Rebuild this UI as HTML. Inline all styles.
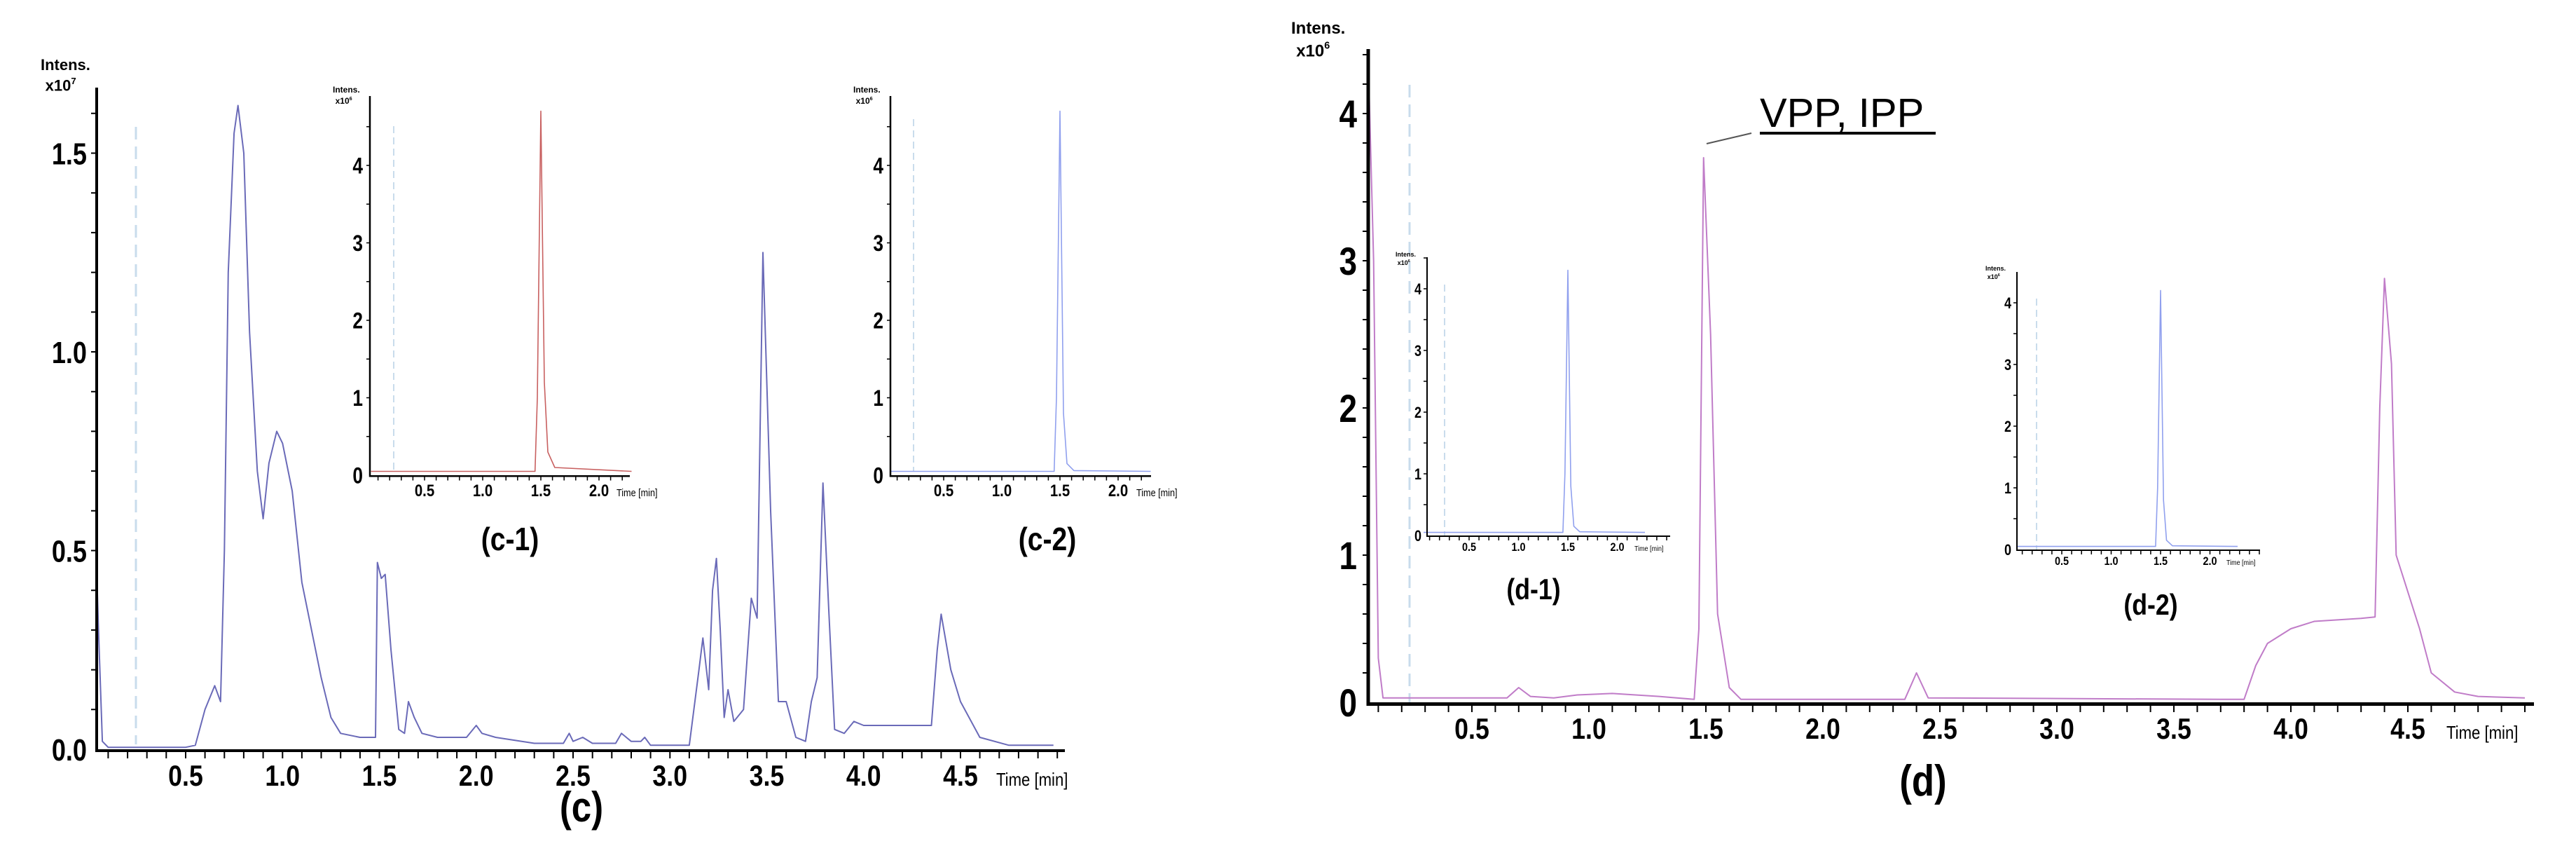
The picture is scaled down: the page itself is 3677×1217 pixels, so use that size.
<!DOCTYPE html>
<html><head><meta charset="utf-8"><style>
html,body{margin:0;padding:0;background:#fff;}
svg{display:block;font-family:"Liberation Sans",sans-serif;}
</style></head><body>
<svg id="fig" width="3677" height="1217" viewBox="0 0 3677 1217" xmlns="http://www.w3.org/2000/svg"></svg>
<script>
// ---- data ----
const cTimes=[0.04,0.05,0.07,0.1,0.5,0.55,0.6,0.65,0.68,0.7,0.72,0.75,0.77,0.8,0.83,0.87,0.9,0.93,0.97,1.0,1.05,1.1,1.15,1.2,1.25,1.3,1.4,1.48,1.49,1.51,1.53,1.56,1.6,1.63,1.65,1.68,1.72,1.8,1.95,2.0,2.03,2.1,2.3,2.45,2.48,2.5,2.55,2.6,2.72,2.75,2.8,2.85,2.87,2.9,3.1,3.15,3.17,3.2,3.22,3.24,3.26,3.28,3.3,3.33,3.38,3.42,3.45,3.48,3.52,3.56,3.6,3.65,3.7,3.73,3.76,3.79,3.82,3.85,3.9,3.95,4.0,4.05,4.35,4.38,4.4,4.45,4.5,4.6,4.75,4.98];
const cValues=[0.46,0.3,0.02,0.005,0.005,0.01,0.1,0.16,0.12,0.5,1.2,1.55,1.62,1.5,1.05,0.7,0.58,0.72,0.8,0.77,0.65,0.42,0.3,0.18,0.08,0.04,0.03,0.03,0.47,0.43,0.44,0.25,0.05,0.04,0.12,0.08,0.04,0.03,0.03,0.06,0.04,0.03,0.015,0.015,0.04,0.02,0.03,0.015,0.015,0.04,0.02,0.02,0.03,0.01,0.01,0.2,0.28,0.15,0.4,0.48,0.3,0.08,0.15,0.07,0.1,0.38,0.33,1.25,0.6,0.12,0.12,0.03,0.02,0.12,0.18,0.67,0.35,0.05,0.04,0.07,0.06,0.06,0.06,0.25,0.34,0.2,0.12,0.03,0.01,0.01];
const dTimes=[0.06,0.08,0.1,0.12,0.65,0.7,0.75,0.85,0.95,1.1,1.3,1.45,1.47,1.49,1.52,1.55,1.6,1.65,2.35,2.4,2.45,3.7,3.8,3.85,3.9,4.0,4.1,4.3,4.36,4.38,4.4,4.43,4.45,4.55,4.6,4.7,4.8,5.0];
const dValues=[4.2,3.0,0.3,0.03,0.03,0.1,0.04,0.03,0.05,0.06,0.04,0.02,0.5,3.7,2.5,0.6,0.1,0.02,0.02,0.2,0.03,0.02,0.02,0.25,0.4,0.5,0.55,0.57,0.58,2.0,2.88,2.3,1.0,0.5,0.2,0.07,0.04,0.03];
const insetTimes=[0.04,1.45,1.47,1.5,1.53,1.56,1.62,2.28];
const c1Values=[0.05,0.05,1.0,4.7,1.2,0.3,0.1,0.05];
const c2Values=[0.05,0.05,1.0,4.7,0.8,0.15,0.06,0.05];
const d1Values=[0.05,0.05,1.0,4.3,0.8,0.15,0.06,0.05];
const d2Values=[0.05,0.05,1.0,4.2,0.8,0.15,0.06,0.05];
const cMainYTicks=["0.0","0.5","1.0","1.5"];
const dMainYTicks=["0","1","2","3","4"];
const insetYTicks=["0","1","2","3","4"];
const mainXTicks=["0.5","1.0","1.5","2.0","2.5","3.0","3.5","4.0","4.5"];
const insetXTicks=["0.5","1.0","1.5","2.0"];

const NS="http://www.w3.org/2000/svg";
const svg=document.getElementById('fig');
function mk(tag,attrs,parent,text){const e=document.createElementNS(NS,tag);for(const k in attrs)e.setAttribute(k,attrs[k]);if(text!==undefined)e.textContent=text;(parent||svg).appendChild(e);return e;}
function narrow(e,x,y,f){e.setAttribute('transform',`translate(${x},${y}) scale(${f},1) translate(${-x},${-y})`);}

function chart(o){
  const g=mk('g',{});
  
  
  const X=t=>o.x0+(t-0.5)*o.xs, Y=v=>o.y0-v*o.ys;
  const dl=mk('line',{x1:o.dash[0],y1:o.dash[1],x2:o.dash[0],y2:o.dash[2],stroke:'#c9dcec','stroke-width':o.small?2:3,'stroke-dasharray':o.small?'10 6':'18 10'},g);
  
  
  const pts=o.times.map((t,i)=>X(t).toFixed(1)+','+Y(o.values[i]).toFixed(1)).join(' ');
  const pl=mk('polyline',{points:pts,fill:'none',stroke:o.color,'stroke-width':o.lw,'stroke-linejoin':'round'},g);
  
  
  const ax=mk('path',{d:`M${o.ax},${o.top} L${o.ax},${o.y0+o.axw/2} L${o.xend},${o.y0+o.axw/2}`,fill:'none',stroke:'#000','stroke-width':o.axw},g);
  
  
  const tk=[];
  for(let t=0.1;X(t)<o.xend;t+=0.1){if(X(t)>o.ax+2)tk.push(`M${X(t).toFixed(1)},${o.y0+o.axw} l0,${o.small?5:9}`);}
  for(let i=1;Y(i*o.yminor)>o.top;i++)tk.push(`M${o.ax},${Y(i*o.yminor).toFixed(1)} l${o.small?-5:-8},0`);
  mk('path',{d:tk.join(' '),stroke:'#000','stroke-width':o.small?1.5:2},g);
  o.yTicks.forEach((s,i)=>{const yy=Y(parseFloat(s))+o.yfs*0.36;const tx=mk('text',{x:o.ax-o.ylabOff,y:yy,'text-anchor':'end','font-size':o.yfs,'font-weight':'bold'},g,s);
    narrow(tx,o.ax-o.ylabOff,yy,0.82);
    
    });
  o.xTicks.forEach(s=>{const xx=X(parseFloat(s)),yy=o.y0+o.xlabOff;const tx=mk('text',{x:xx,y:yy,'text-anchor':'middle','font-size':o.xfs,'font-weight':'bold'},g,s);
    narrow(tx,xx,yy,0.85);
    
    });
  const tl=mk('text',{x:o.timeX,y:o.y0+o.xlabOff,'font-size':o.xfs*0.62},g,'Time [min]');
  narrow(tl,o.timeX,o.y0+o.xlabOff,0.85);
  
  
  const it=mk('text',{x:o.intX,y:o.intY,'font-size':o.ifs,'font-weight':'bold'},g,'Intens.');
  
  
  const ex=mk('text',{x:o.intX+o.ifs*0.3,y:o.intY+o.ifs*1.35,'font-size':o.ifs,'font-weight':'bold'},g);
  
  
  ex.textContent='x10';
  mk('tspan',{dy:-o.ifs*0.45,'font-size':o.ifs*0.6},ex,o.exp);
  const lb=mk('text',{x:o.lab[0],y:o.lab[1],'text-anchor':'middle','font-size':o.lab[2],'font-weight':'bold'},g,o.label);
  narrow(lb,o.lab[0],o.lab[1],0.85);
  
  
}

chart({name:'chart-c',times:cTimes,values:cValues,color:'#6a6ab8',lw:2,x0:265,xs:276.5,y0:1069,ys:567,ax:138,top:125,xend:1520,axw:4,
  yminor:0.1,yTicks:cMainYTicks,xTicks:mainXTicks,yfs:44,xfs:42,ylabOff:14,xlabOff:52,timeX:1422,intX:58,intY:100,ifs:22,exp:'7',
  dash:[194,181,1062],label:'(c)',lab:[830,1172,60]});
chart({name:'chart-c1',small:true,times:insetTimes,values:c1Values,color:'#c86060',lw:1.6,x0:606,xs:166,y0:678,ys:110.5,ax:528,top:137,xend:899,axw:2.5,
  yminor:0.5,yTicks:insetYTicks,xTicks:insetXTicks,yfs:32,xfs:24,ylabOff:10,xlabOff:30,timeX:880,intX:475,intY:132,ifs:12,exp:'6',
  dash:[562,180,672],label:'(c-1)',lab:[728,785,46]});
chart({name:'chart-c2',small:true,times:insetTimes,values:c2Values,color:'#90a0ee',lw:1.6,x0:1347,xs:166,y0:678,ys:110.5,ax:1271,top:137,xend:1643,axw:2.5,
  yminor:0.5,yTicks:insetYTicks,xTicks:insetXTicks,yfs:32,xfs:24,ylabOff:10,xlabOff:30,timeX:1622,intX:1218,intY:132,ifs:12,exp:'6',
  dash:[1304,170,672],label:'(c-2)',lab:[1495,785,46]});
chart({name:'chart-d',times:dTimes,values:dValues,color:'#c07cc8',lw:2,x0:2101,xs:334,y0:1002,ys:210,ax:1953,top:70,xend:3617,axw:5,
  yminor:0.2,yTicks:dMainYTicks,xTicks:mainXTicks,yfs:56,xfs:42,ylabOff:16,xlabOff:52,timeX:3492,intX:1843,intY:48,ifs:24,exp:'6',
  dash:[2012,121,1016],label:'(d)',lab:[2745,1135,62]});
chart({name:'chart-d1',small:true,times:insetTimes,values:d1Values,color:'#90a0ee',lw:1.6,x0:2097,xs:141,y0:764,ys:88,ax:2037,top:367,xend:2384,axw:2,
  yminor:0.5,yTicks:insetYTicks,xTicks:insetXTicks,yfs:22,xfs:17,ylabOff:8,xlabOff:22,timeX:2333,intX:1992,intY:366,ifs:9,exp:'6',
  dash:[2062,406,764],label:'(d-1)',lab:[2189,855,42]});
chart({name:'chart-d2',small:true,times:insetTimes,values:d2Values,color:'#90a0ee',lw:1.6,x0:2943,xs:141,y0:784,ys:88,ax:2879,top:388,xend:3226,axw:2,
  yminor:0.5,yTicks:insetYTicks,xTicks:insetXTicks,yfs:22,xfs:17,ylabOff:8,xlabOff:22,timeX:3178,intX:2834,intY:386,ifs:9,exp:'6',
  dash:[2907,426,784],label:'(d-2)',lab:[3070,877,42]});

const an=mk('g',{});


mk('text',{x:2512,y:181,'font-size':58},an,'VPP, IPP');
mk('line',{x1:2512,y1:190,x2:2763,y2:190,stroke:'#000','stroke-width':4},an);
mk('line',{x1:2436,y1:205,x2:2500,y2:190,stroke:'#555','stroke-width':2},an);
</script>
</body></html>
